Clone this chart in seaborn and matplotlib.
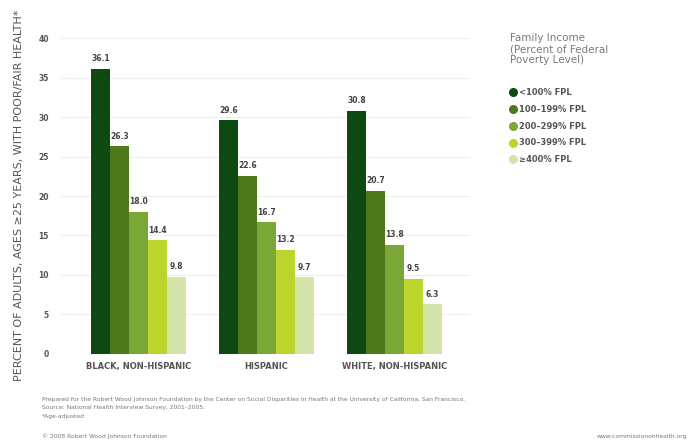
import matplotlib
matplotlib.use("Agg")
import matplotlib.pyplot as plt
from matplotlib.lines import Line2D
import seaborn as sns
import pandas as pd

groups = ["BLACK, NON-HISPANIC", "HISPANIC", "WHITE, NON-HISPANIC"]
income_levels = ["<100% FPL", "100–199% FPL", "200–299% FPL", "300–399% FPL", "≥400% FPL"]
black = [36.1, 26.3, 18.0, 14.4, 9.8]
hispanic = [29.6, 22.6, 16.7, 13.2, 9.7]
white = [30.8, 20.7, 13.8, 9.5, 6.3]
y_ticks = [0, 5, 10, 15, 20, 25, 30, 35, 40]
colors = ["#0c4a12", "#4d791b", "#7ba737", "#bcd52e", "#d4e4a9"]

rows = []
for g, vals in zip(groups, [black, hispanic, white]):
    for lvl, v in zip(income_levels, vals):
        rows.append({"group": g, "income": lvl, "value": v})
df = pd.DataFrame(rows)

sns.set_theme(style="white")
plt.rcParams['font.family'] = ['DejaVu Sans']

fig = plt.figure(figsize=(6.88, 4.44), dpi=100)
ax = fig.add_axes([0.087, 0.203, 0.596, 0.711])

sns.barplot(data=df, x="group", y="value", hue="income", order=groups,
            hue_order=income_levels, palette=colors, width=0.74, gap=0,
            saturation=1, ax=ax, legend=False, errorbar=None,
            linewidth=0, edgecolor="none")

for cont in ax.containers:
    for bar in cont:
        h = bar.get_height()
        ax.text(bar.get_x() + bar.get_width() / 2, h + 0.7, f"{h:.1f}",
                ha="center", va="bottom", fontsize=5.5, color="#444444",
                fontweight="bold")

ax.set_ylim(0, 40)
ax.set_xlim(-0.613, 2.59)
ax.set_yticks(y_ticks)
ax.set_yticklabels([str(t) for t in y_ticks], fontsize=5.5, color="#555555",
                   fontweight="bold")
ax.tick_params(axis="y", length=0, pad=8)
ax.tick_params(axis="x", length=0, pad=6)
for lbl in ax.get_xticklabels():
    lbl.set_fontsize(6)
    lbl.set_color("#555555")
    lbl.set_fontweight("bold")
ax.yaxis.grid(True, color="#eeeeee", linewidth=0.8)
ax.set_axisbelow(True)
for s in ax.spines.values():
    s.set_visible(False)
ax.set_xlabel("")
ax.set_ylabel("")

fig.text(0.027, 0.56, "PERCENT OF ADULTS, AGES ≥25 YEARS, WITH POOR/FAIR HEALTH*",
         rotation=90, ha="center", va="center", fontsize=8.0, color="#555555")

# Legend
fig.text(0.741, 0.925, "Family Income\n(Percent of Federal\nPoverty Level)",
         ha="left", va="top", fontsize=7.5, color="#7a7a7a", linespacing=1.12)
handles = [Line2D([0], [0], marker="o", linestyle="", markersize=5.5,
                  markerfacecolor=c, markeredgecolor=c) for c in colors]
leg = fig.legend(handles, income_levels, loc="upper left",
                 bbox_to_anchor=(0.735, 0.81), frameon=False, fontsize=6,
                 handletextpad=0.2, labelspacing=0.95, handlelength=1.0,
                 borderaxespad=0)
for t in leg.get_texts():
    t.set_color("#555555")
    t.set_fontweight("bold")

# Footer
foot_color = "#777777"
fig.text(0.061, 0.101, "Prepared for the Robert Wood Johnson Foundation by the Center on Social Disparities in Health at the University of California, San Francisco.",
         fontsize=4.3, color=foot_color, ha="left", va="center")
fig.text(0.061, 0.083, "Source: National Health Interview Survey, 2001–2005.",
         fontsize=4.3, color=foot_color, ha="left", va="center")
fig.text(0.061, 0.063, "*Age-adjusted",
         fontsize=4.3, color=foot_color, ha="left", va="center")
fig.text(0.061, 0.018, "© 2008 Robert Wood Johnson Foundation",
         fontsize=4.3, color=foot_color, ha="left", va="center")
fig.text(0.999, 0.018, "www.commissiononhealth.org",
         fontsize=4.3, color=foot_color, ha="right", va="center")

fig.savefig("out.png", dpi=100)
